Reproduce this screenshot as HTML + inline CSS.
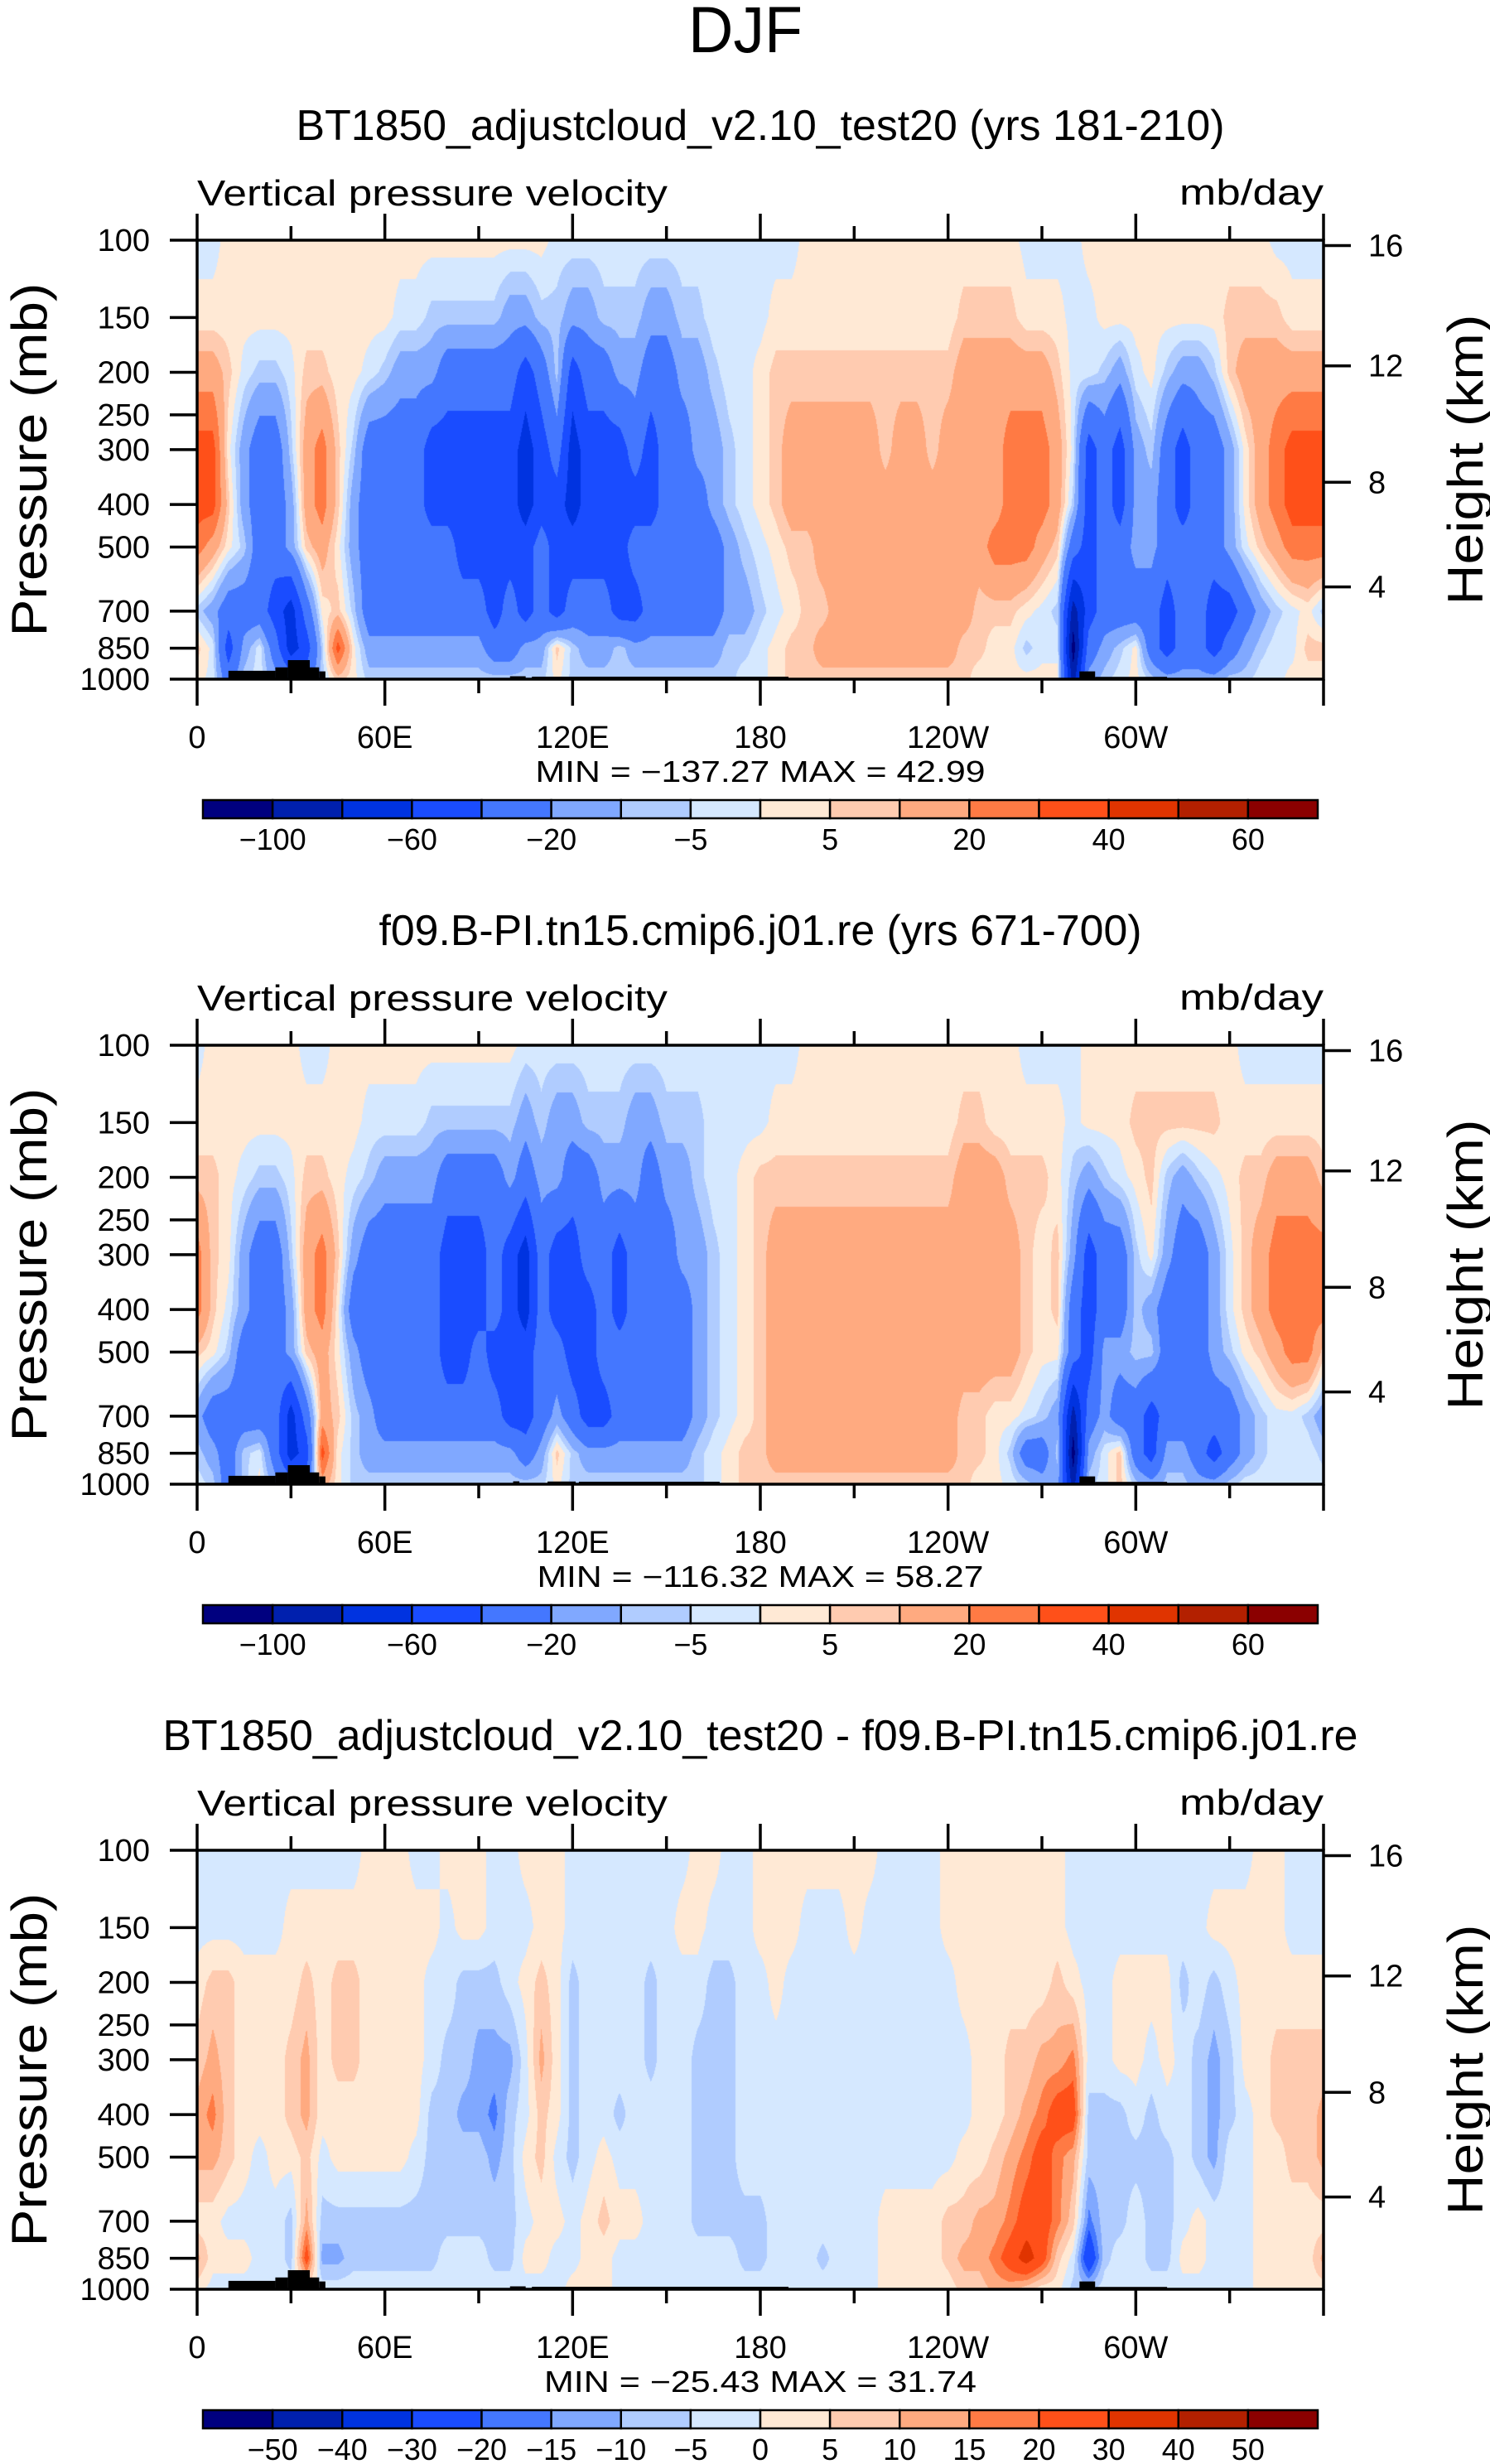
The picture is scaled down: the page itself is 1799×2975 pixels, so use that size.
<!DOCTYPE html>
<html><head><meta charset="utf-8"><style>
html,body{margin:0;padding:0;background:#fff}
#root{position:relative;width:1799px;height:2975px;overflow:hidden;background:#fff}
canvas{position:absolute}
svg{position:absolute;left:0;top:0}
text{font-family:"Liberation Sans",sans-serif;fill:#000}
</style></head><body>
<div id="root">
<canvas id="c0" width="1360" height="530" style="left:238px;top:290px"></canvas>
<canvas id="c1" width="1360" height="530" style="left:238px;top:1262px"></canvas>
<canvas id="c2" width="1360" height="530" style="left:238px;top:2234px"></canvas>
<svg id="ov" width="1799" height="2975" xmlns="http://www.w3.org/2000/svg"></svg>
</div>
<script>
// ---- data ----
const pLevels = [100,150,200,300,400,500,700,850,1000];
const lonStep = 5;
const levels12 = [-100,-80,-60,-40,-20,-10,-5,0,5,10,20,30,40,50,60];
const levels3 = [-50,-40,-30,-20,-15,-10,-5,0,5,10,15,20,30,40,50];
const colors = ["#00007f","#0020ae","#0033e0","#1a4cff","#4477ff","#80a8ff","#b0ccff","#d5e8ff","#ffe9d5","#ffcbb0","#ffaa80","#ff7a44","#ff5019","#e03400","#b32000","#8b0000"];
const lonTickLabels = ["0","60E","120E","180","120W","60W"];
const lonTickValues = [0,60,120,180,240,300];
const pTickValues = [100,150,200,250,300,400,500,700,850,1000];
const hTickValues = [4,8,12,16];
const cbLabels12 = ["\u2212100","\u221260","\u221220","\u22125","5","20","40","60"];
const cbLabelIdx12 = [0,2,4,6,8,10,12,14];
const cbLabels3 = ["\u221250","\u221240","\u221230","\u221220","\u221215","\u221210","\u22125","0","5","10","15","20","30","40","50"];
const cbLabelIdx3 = [0,1,2,3,4,5,6,7,8,9,10,11,12,13,14];
const titles = ["BT1850_adjustcloud_v2.10_test20 (yrs 181-210)","f09.B-PI.tn15.cmip6.j01.re (yrs 671-700)","BT1850_adjustcloud_v2.10_test20 - f09.B-PI.tn15.cmip6.j01.re"];
const minmax = ["MIN = \u2212137.27   MAX =   42.99","MIN = \u2212116.32   MAX =   58.27","MIN = \u221225.43   MAX =   31.74"];

const field1 = [
[-2,-2,2,2,2,2,2,2,2,2,2,2, 2,2,2,2,2,2,2,2,2,2,2,-2, -2,-2,-2,-2,-2,-2,-2,-2,-2,-2,-2,-2, -2,-2,-2,2,2,2,2,2,2,2,2,2, 2,2,2,2,2,-2,-2,-2,-2,2,2,2, 2,2,2,2,2,2,2,2,2,-2,-2,-2],
[2,2,2,2,2,2,2,2,2,2,2,2, 2,-2,-2,-7,-7,-7,-7,-7,-15,-15,-7,-7, -15,-15,-7,-7,-7,-15,-15,-7,-7,-2,-2,-2, -2,2,2,2,2,2,2,2,2,2,2,2, 2,7,7,7,7,2,2,2,-2,-2,2,2, 2,2,2,2,2,2,7,7,7,7,2,2],
[15,15,7,-2,-7,-7,-2,7,7,2,2,-2, -7,-15,-15,-15,-30,-30,-30,-30,-30,-50,-30,-7, -50,-30,-30,-15,-15,-30,-30,-15,-15,-7,-2,-2, 2,7,7,7,7,7,7,7,7,7,7,7, 7,15,15,15,15,15,15,7,-2,-2,-7,-15, -2,2,-7,-15,-15,-7,7,15,15,15,15,15],
[35,35,2,-15,-30,-30,-7,15,25,7,-7,-30, -30,-30,-30,-50,-50,-50,-50,-50,-50,-70,-50,-30, -70,-50,-50,-50,-30,-50,-30,-30,-15,-15,-7,-2, 2,7,15,15,15,15,15,15,7,15,15,7, 15,15,15,15,25,25,25,15,-2,-50,-30,-50, -15,-7,-30,-50,-30,-30,-15,2,15,25,35,35],
[35,35,7,-15,-30,-30,-15,15,25,7,-15,-30, -30,-30,-30,-50,-50,-50,-50,-50,-50,-70,-50,-50, -70,-50,-50,-50,-50,-50,-30,-30,-30,-15,-7,-2, 2,7,15,15,15,15,15,15,15,15,15,15, 15,15,15,15,25,25,25,15,-7,-50,-30,-50, -15,-15,-30,-50,-30,-30,-15,2,15,25,35,35],
[25,15,2,-7,-30,-30,-15,7,15,2,-15,-30, -30,-30,-30,-30,-30,-50,-50,-50,-50,-50,-30,-50, -50,-50,-50,-50,-30,-30,-30,-30,-30,-30,-15,-7, -2,2,7,7,15,15,15,15,15,15,15,15, 15,15,15,25,25,25,15,7,-30,-50,-30,-30, -15,-15,-30,-30,-30,-30,-15,-2,7,15,25,25],
[-7,-15,-30,-30,-30,-50,-70,-30,2,7,-7,-30, -30,-30,-30,-30,-30,-30,-30,-50,-30,-50,-30,-50, -30,-30,-30,-50,-50,-30,-30,-30,-30,-30,-15,-15, -7,-2,2,7,7,15,15,15,15,15,15,15, 15,15,7,7,7,2,-2,-7,-90,-50,-30,-30, -30,-30,-50,-30,-30,-50,-50,-30,-15,-7,-2,2],
[7,-2,-50,-15,-2,-30,-70,-50,-7,35,2,-15, -15,-15,-15,-15,-15,-15,-15,-30,-30,-15,-15,7, -7,-15,-15,-7,-15,-15,-15,-15,-15,-15,-7,-7, -2,2,7,7,15,15,15,15,15,15,15,15, 15,7,7,2,2,-7,-2,-2,-110,-30,-15,-7, 2,-30,-50,-30,-30,-50,-30,-15,-7,-2,-2,7],
[2,-2,-30,-7,-2,-15,-30,-30,-7,7,2,-7, -7,-7,-7,-7,-7,-7,-7,-7,-7,-7,-7,2, -7,-7,-7,-7,-7,-7,-7,-7,-7,-7,-7,-2, -2,2,7,7,7,7,7,7,7,7,7,7, 7,7,2,2,2,2,2,2,-90,-15,-7,-2, 2,-7,-15,-15,-15,-15,-7,-7,-2,-2,2,2]
];
const field2 = [
[-2,2,2,2,2,2,2,-2,-2,2,2,2, 2,2,2,2,2,2,2,2,2,-2,-2,-2, -2,-2,-2,-2,-2,-2,-2,-2,-2,-2,-2,-2, -2,-2,-2,2,2,2,2,2,2,2,2,2, 2,2,2,2,2,-2,-2,-2,-2,2,2,2, 2,2,2,2,2,2,2,-2,-2,-2,-2,-2],
[2,2,2,2,2,2,2,2,2,2,2,-2, -2,-2,-2,-7,-7,-7,-7,-7,-7,-15,-7,-15, -15,-7,-7,-7,-15,-15,-7,-7,-7,-2,-2,-2, -2,2,2,2,2,2,2,2,2,2,2,2, 2,7,7,2,2,2,2,2,-2,2,2,2, 7,7,7,7,7,7,2,2,2,2,2,2],
[7,7,2,-2,-7,-7,-2,7,7,2,-2,-7, -15,-15,-15,-15,-30,-30,-30,-30,-15,-30,-15,-15, -30,-30,-15,-15,-15,-30,-15,-15,-7,-2,-2,2, 7,7,7,7,7,7,7,7,7,7,7,7, 7,15,15,15,7,7,7,2,-7,-15,-7,-2, 2,7,-7,-15,-7,-2,2,7,7,15,15,15],
[25,7,2,-15,-30,-30,-7,15,25,7,-15,-30, -30,-30,-30,-30,-50,-50,-50,-30,-50,-70,-30,-50, -50,-30,-30,-50,-30,-30,-30,-15,-15,-7,-2,2, 7,15,15,15,15,15,15,15,15,15,15,15, 15,15,15,15,15,7,2,7,-15,-50,-30,-30, -7,2,-15,-30,-30,-15,-2,7,15,25,25,25],
[25,7,-2,-15,-30,-30,-15,15,25,2,-30,-30, -30,-30,-30,-30,-50,-50,-50,-30,-50,-70,-30,-50, -50,-50,-30,-50,-30,-30,-30,-30,-15,-7,-2,2, 7,15,15,15,15,15,15,15,15,15,15,15, 15,15,15,15,15,7,2,7,-30,-50,-30,-30, -7,-15,-30,-30,-30,-15,-2,7,15,25,25,25],
[7,2,-7,-30,-30,-30,-15,7,15,2,-15,-30, -30,-30,-30,-30,-50,-50,-30,-50,-50,-50,-30,-30, -50,-50,-30,-30,-30,-30,-30,-30,-15,-7,-2,2, 7,15,15,15,15,15,15,15,15,15,15,15, 15,15,15,15,15,7,2,2,-30,-50,-15,-15, -7,-7,-30,-30,-30,-15,-7,2,7,15,25,25],
[-15,-30,-30,-30,-30,-30,-70,-30,15,7,-7,-15, -30,-30,-30,-30,-30,-30,-30,-30,-50,-50,-30,-15, -30,-50,-50,-30,-30,-30,-30,-30,-15,-7,-2,2, 7,15,15,15,15,15,15,15,15,15,15,15, 15,7,7,2,2,-2,-7,-15,-90,-30,-15,-30, -30,-50,-30,-30,-30,-30,-30,-15,-7,-2,-2,-7],
[-7,-15,-30,-7,-2,-30,-70,-50,35,2,-7,-15, -15,-15,-15,-15,-15,-15,-15,-15,-15,-30,-15,7, -7,-15,-15,-15,-15,-15,-15,-15,-7,-2,2,7, 7,15,15,15,15,15,15,15,15,15,15,15, 15,7,7,2,-7,-30,-30,-7,-110,-15,-2,7, -30,-50,-15,-15,-30,-50,-30,-15,-7,-2,-2,-2],
[-2,-7,-30,-7,2,-15,-30,-30,15,2,-7,-7, -7,-7,-7,-7,-7,-7,-7,-7,-7,-7,-7,2, -7,-7,-7,-7,-7,-7,-7,-7,-7,-2,2,7, 7,7,7,7,7,7,7,7,7,7,7,7, 7,7,2,2,-2,-7,-15,-15,-90,-7,-2,7, -7,-15,-7,-7,-15,-15,-7,-2,-2,-2,-2,-2]
];
const field3 = [
[-2,-2,-2,-2,-2,-2,-2,-2,-2,-2,-2,2, 2,2,-2,-2,2,2,2,-2,-2,2,2,2, -2,-2,-2,-2,-2,-2,-2,-2,2,2,-2,-2, 2,2,2,2,2,2,2,2,-2,-2,-2,-2, 2,2,2,2,2,2,2,2,-2,-2,-2,-2, -2,-2,-2,-2,-2,-2,-2,-2,2,2,-2,-2],
[-2,-2,-2,-2,-2,-2,2,2,2,2,2,2, 2,2,2,2,-2,2,2,-2,-2,-2,2,2, -2,-2,-2,-2,-2,-2,-2,2,2,-2,-2,-2, 2,2,2,-2,-2,-2,2,-2,-2,-2,-2,-2, 2,2,2,2,2,2,2,2,-2,-2,-2,-2, -2,-2,-2,-2,-2,2,2,2,2,2,-2,-2],
[2,7,7,2,2,2,2,7,2,7,7,2, 2,2,2,-2,-2,-7,-7,-7,-2,2,7,2, -7,-2,-2,-2,-2,-7,-2,-2,-2,-7,-7,-2, -2,2,-2,-2,-2,-2,-2,-2,-2,-2,-2,-2, -2,2,2,2,2,2,2,7,2,-2,-2,2, 2,2,2,-7,-2,-7,-2,2,2,2,2,2],
[7,12,7,2,2,2,7,12,2,7,7,2, 2,2,2,-2,-7,-7,-12,-12,-12,-2,12,2, -7,-2,-2,-2,-2,-7,-2,-2,-7,-7,-7,-2, -2,-2,-2,-2,-2,-2,-2,-2,-2,-2,-2,-2, -2,-2,2,2,7,7,12,12,17,-2,-2,2, 2,-2,2,-2,-7,-12,-7,2,2,7,7,7],
[12,17,7,2,2,2,7,12,2,2,2,2, 2,2,2,-7,-7,-12,-12,-17,-7,-2,7,2, -7,-2,-2,-7,-2,-2,-2,-2,-7,-7,-7,-2, -2,-2,-2,-2,-2,-2,-2,-2,-2,-2,-2,-2, -2,-2,2,2,7,12,17,25,25,-7,-7,-7, -2,-7,-2,-2,-7,-12,-7,-2,2,7,7,7],
[12,12,7,2,-2,2,2,7,-2,2,2,2, 2,2,-2,-7,-7,-7,-7,-12,-7,2,7,-2, -7,-2,2,-2,-2,-2,-2,-2,-7,-7,-7,-2, -2,-2,-2,-2,-2,-2,-2,-2,-2,-2,-2,-2, -2,2,2,7,12,17,25,17,12,-7,-7,-7, -7,-7,-7,-2,-7,-12,-2,-2,2,2,7,7],
[2,2,-2,-2,-2,-2,-7,12,-7,-7,-7,-7, -7,-7,-7,-7,-7,-7,-7,-7,-7,-2,2,2, -2,2,7,2,2,-2,-2,-2,-7,-7,-7,-7, -7,-2,-2,-2,-2,-2,-2,-2,2,2,2,2, 7,7,12,12,17,25,25,17,7,-17,-7,-7, -2,-7,-7,-2,2,-2,-2,-2,2,2,2,2],
[12,2,2,2,-2,-2,-7,25,-12,-12,-7,-7, -7,-7,-7,-7,-2,-2,-2,-7,-7,2,2,-2, -2,2,2,-2,-2,-2,-2,-2,-2,-2,-2,-7, -7,-2,-2,-2,-7,-2,-2,-2,2,2,2,2, 7,12,12,17,25,35,25,7,-2,-30,-7,-2, -2,-7,-7,2,2,-2,-2,-2,2,2,2,2],
[2,-2,-2,-2,-2,-2,-2,2,-2,-2,-2,-2, -2,-2,-2,-2,-2,-2,-2,-2,-2,-2,-2,-2, 2,2,2,-2,-2,-2,-2,-2,-2,-2,-2,-2, -2,-2,-2,-2,-2,-2,-2,-2,2,2,2,2, 2,7,7,12,12,7,2,2,-7,-7,-2,-2, -2,-2,-2,-2,-2,-2,-2,-2,2,2,2,2]
];
// topography (lon start, lon end, surface pressure mb)
const topoStart1 = [10,25,29,36,39,100,107,282,287];
const topoEnd1   = [25,29,36,39,41,105,189,287,310];
const topoPs1    = [957,940,905,940,960,985,987,960,988];
const topoStart2 = [10,25,29,36,39,101,112,122,282,287];
const topoEnd2   = [25,29,36,39,41,103,121,167,287,310];
const topoPs2    = [957,940,905,940,960,985,986,987,960,988];

// ---- geometry ----
const plotLeft = 238, plotW = 1360, plotH = 530;
const plotTops = [290,1262,2234];
function lonToX(l){ return plotLeft + l/360*plotW; }
function pToY(top,p){ return top + plotH*Math.log10(p/100); }
function zToP(zkm){ const z=zkm*1000; if(z<=11000) return 1013.25*Math.pow(1-2.25577e-5*z,5.25588); return 226.32*Math.exp(-0.000157688*(z-11000)); }

function hex(c){ return [parseInt(c.substr(1,2),16),parseInt(c.substr(3,2),16),parseInt(c.substr(5,2),16)]; }
const rgb = colors.map(hex);
function band(v,lv){ let k=0; for(let i=0;i<lv.length;i++){ if(v>=lv[i]) k=i+1; } return k; }

function drawField(cid, field, lv){
  const cv=document.getElementById(cid), ctx=cv.getContext('2d');
  const img=ctx.createImageData(plotW,plotH), d=img.data;
  const nodeY=pLevels.map(p=>plotH*Math.log10(p/100));
  const nc=field[0].length;
  const rowIdx=[], rowT=[];
  for(let py=0;py<plotH;py++){
    const y=py+0.5; let i=0;
    while(i<nodeY.length-2 && y>nodeY[i+1]) i++;
    rowIdx.push(i); rowT.push(Math.min(1,Math.max(0,(y-nodeY[i])/(nodeY[i+1]-nodeY[i]))));
  }
  for(let px=0;px<plotW;px++){
    const lon=(px+0.5)/plotW*360, fj=lon/lonStep;
    const j0=Math.floor(fj)%nc, j1=(j0+1)%nc, tx=fj-Math.floor(fj);
    for(let py=0;py<plotH;py++){
      const i=rowIdx[py], ty=rowT[py];
      const a=field[i][j0]*(1-tx)+field[i][j1]*tx;
      const b=field[i+1][j0]*(1-tx)+field[i+1][j1]*tx;
      const v=a*(1-ty)+b*ty;
      const c=rgb[band(v,lv)], o=(py*plotW+px)*4;
      d[o]=c[0]; d[o+1]=c[1]; d[o+2]=c[2]; d[o+3]=255;
    }
  }
  ctx.putImageData(img,0,0);
}
drawField('c0',field1,levels12);
drawField('c1',field2,levels12);
drawField('c2',field3,levels12===levels3?levels12:levels3);

// ---- svg overlay ----
const NS="http://www.w3.org/2000/svg";
const svg=document.getElementById('ov');
function mk(tag,attrs,txt){ const e=document.createElementNS(NS,tag); for(const k in attrs) e.setAttribute(k,attrs[k]); if(txt!==undefined) e.textContent=txt; svg.appendChild(e); return e; }

let t=mk('text',{x:900,y:63,'font-size':79,'text-anchor':'middle',textLength:138,lengthAdjust:'spacingAndGlyphs'},'DJF');



const topoS=[topoStart1,topoStart2,topoStart1], topoE=[topoEnd1,topoEnd2,topoEnd1], topoP=[topoPs1,topoPs2,topoPs1];
const titleLen=[1121,921,1443];
const mmLen=[543,539,522];

for(let k=0;k<3;k++){
  const top=plotTops[k], bot=top+plotH, right=plotLeft+plotW;
  let e;
  e=mk('text',{x:918,y:top-121,'font-size':52,'text-anchor':'middle',textLength:titleLen[k],lengthAdjust:'spacingAndGlyphs'},titles[k]);
  
  
  e=mk('text',{x:plotLeft,y:top-42,'font-size':44,textLength:568,lengthAdjust:'spacingAndGlyphs'},'Vertical pressure velocity');
  
  
  e=mk('text',{x:right,y:top-43,'font-size':44,'text-anchor':'end',textLength:174,lengthAdjust:'spacingAndGlyphs'},'mb/day');
  
  
  // topography
  for(let i=0;i<topoS[k].length;i++){
    const x0=lonToX(topoS[k][i]), x1=lonToX(topoE[k][i]), y0=pToY(top,topoP[k][i]);
    e=mk('rect',{x:x0,y:y0,width:x1-x0,height:bot-y0,fill:'#000'});
    
    
  }
  // frame
  e=mk('rect',{x:plotLeft,y:top,width:plotW,height:plotH,fill:'none',stroke:'#000','stroke-width':3.5});
  
  
  // lon ticks
  for(let l=0;l<=360;l+=30){
    const x=lonToX(l), len=(l%60===0)?32:17;
    e=mk('line',{x1:x,y1:bot,x2:x,y2:bot+len,stroke:'#000','stroke-width':3.5});
    
    
    e=mk('line',{x1:x,y1:top,x2:x,y2:top-len,stroke:'#000','stroke-width':3.5});
    
    
  }
  for(let i=0;i<lonTickValues.length;i++){
    e=mk('text',{x:lonToX(lonTickValues[i]),y:bot+83,'font-size':38,'text-anchor':'middle'},lonTickLabels[i]);
    
    
  }
  // pressure ticks
  for(const p of pTickValues){
    const y=pToY(top,p);
    e=mk('line',{x1:plotLeft-33,y1:y,x2:plotLeft,y2:y,stroke:'#000','stroke-width':3.5});
    
    
    e=mk('text',{x:181,y:y+13,'font-size':38,'text-anchor':'end'},String(p));
    
    
  }
  // height ticks
  for(const h of hTickValues){
    const y=pToY(top,zToP(h));
    e=mk('line',{x1:right,y1:y,x2:right+33,y2:y,stroke:'#000','stroke-width':3.5});
    
    
    e=mk('text',{x:1652,y:y+13,'font-size':38},String(h));
    
    
  }
  e=mk('text',{x:0,y:0,'font-size':60,'text-anchor':'middle',textLength:427,lengthAdjust:'spacingAndGlyphs',transform:'translate(56,'+(top+265)+') rotate(-90)'},'Pressure (mb)');
  
  
  e=mk('text',{x:0,y:0,'font-size':60,'text-anchor':'middle',textLength:351,lengthAdjust:'spacingAndGlyphs',transform:'translate(1790,'+(top+265)+') rotate(-90)'},'Height (km)');
  
  
  e=mk('text',{x:918,y:bot+124,'font-size':36,'text-anchor':'middle','xml:space':'preserve',textLength:mmLen[k],lengthAdjust:'spacingAndGlyphs'},minmax[k]);
  
  
  // colorbar
  const cbL=245, cbR=1591, cbT=top+676, cbH=22, bw=(cbR-cbL)/colors.length;
  for(let i=0;i<colors.length;i++){
    e=mk('rect',{x:cbL+i*bw,y:cbT,width:bw,height:cbH,fill:colors[i],stroke:'#000','stroke-width':2.5});
    
    
  }
  const labs=(k<2)?cbLabels12:cbLabels3, idx=(k<2)?cbLabelIdx12:cbLabelIdx3;
  for(let i=0;i<labs.length;i++){
    e=mk('text',{x:cbL+(idx[i]+1)*bw,y:top+736,'font-size':36,'text-anchor':'middle'},labs[i]);
    
    
  }
}
</script>
</body></html>
